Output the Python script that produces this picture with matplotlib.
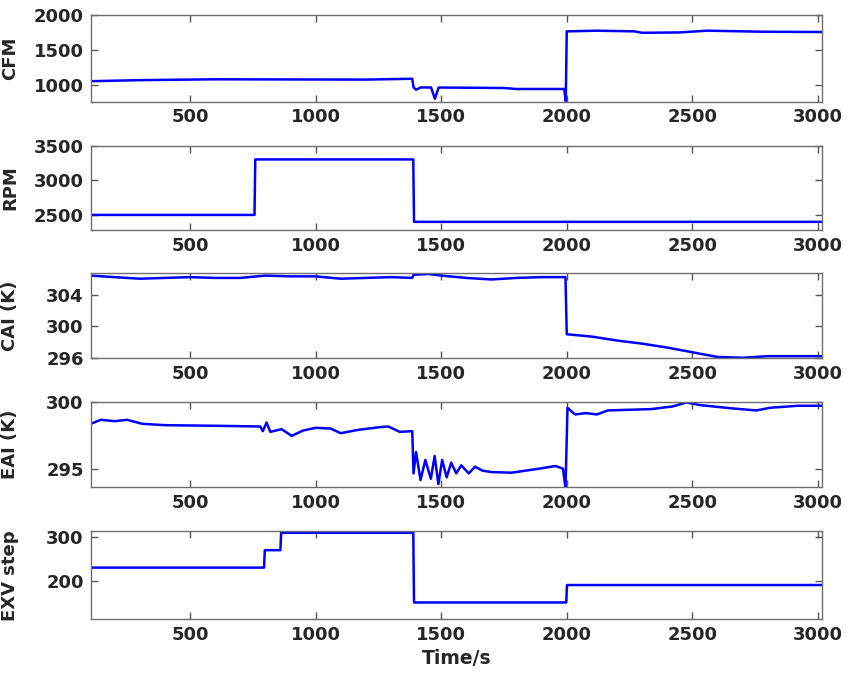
import numpy as np
import matplotlib.pyplot as plt

# ---- data ----
cfm_t = [105, 300, 600, 900, 1200, 1385, 1390, 1400, 1420, 1460, 1475, 1490, 1600,
         1750, 1800, 1990, 1996, 2000, 2120, 2270, 2300, 2450, 2560, 2780, 3015]
cfm_v = [1055, 1070, 1082, 1080, 1078, 1090, 967, 934, 967, 965, 805, 965, 962,
         958, 944, 944, 770, 1765, 1775, 1765, 1745, 1750, 1775, 1760, 1756]

rpm_t = [105, 757, 760, 1389, 1392, 3015]
rpm_v = [2500, 2500, 3300, 3300, 2400, 2400]

cai_t = [105, 200, 300, 400, 500, 600, 700, 800, 900, 1000, 1100, 1200, 1300, 1385,
         1390, 1450, 1500, 1600, 1700, 1800, 1900, 1995, 2000, 2100, 2200, 2300,
         2400, 2500, 2600, 2700, 2800, 2900, 3015]
cai_v = [306.5, 306.3, 306.1, 306.2, 306.3, 306.2, 306.2, 306.5, 306.4, 306.4, 306.1,
         306.2, 306.3, 306.2, 306.6, 306.7, 306.5, 306.2, 306.0, 306.2, 306.3, 306.3,
         299.0, 298.7, 298.2, 297.8, 297.3, 296.7, 296.1, 296.0, 296.2, 296.2, 296.2]

eai_t = [105, 145, 200, 250, 310, 400, 620, 780, 790, 805, 820, 865, 905, 950, 1000,
         1060, 1100, 1170, 1255, 1290, 1335, 1385, 1390, 1400, 1418, 1437, 1459, 1474,
         1489, 1504, 1522, 1540, 1560, 1580, 1610, 1635, 1665, 1700, 1780, 1890, 1955,
         1985, 1995, 2003, 2033, 2076, 2120, 2163, 2336, 2422, 2476, 2530, 2660, 2755,
         2810, 2920, 3015]
eai_v = [298.4, 298.7, 298.6, 298.7, 298.4, 298.3, 298.25, 298.2, 297.85, 298.5,
         297.8, 298.0, 297.5, 297.9, 298.1, 298.05, 297.7, 297.95, 298.15, 298.2, 297.8,
         297.85, 294.7, 296.3, 294.2, 295.7, 294.3, 296.0, 293.9, 295.7, 294.4, 295.5,
         294.7, 295.3, 294.7, 295.2, 294.9, 294.8, 294.75, 295.05, 295.25, 295.05, 293.6,
         299.6, 299.1, 299.2, 299.1, 299.4, 299.5, 299.7, 300.0, 299.8, 299.55, 299.4,
         299.6, 299.75, 299.75]

exv_t = [105, 795, 798, 860, 863, 1389, 1392, 1998, 2001, 3015]
exv_v = [230, 230, 270, 270, 310, 310, 150, 150, 190, 190]

panels = [
    (cfm_t, cfm_v, 'CFM', (765, 2000), [1000, 1500, 2000]),
    (rpm_t, rpm_v, 'RPM', (2280, 3500), [2500, 3000, 3500]),
    (cai_t, cai_v, 'CAI (K)', (295.95, 306.85), [296, 300, 304]),
    (eai_t, eai_v, 'EAI (K)', (293.65, 300.02), [295, 300]),
    (exv_t, exv_v, 'EXV step', (111, 313), [200, 300]),
]

# axes boxes in figure fraction (left, bottom, width, height)
boxes = [
    (0.107, 0.850, 0.862, 0.128),
    (0.107, 0.660, 0.862, 0.125),
    (0.107, 0.471, 0.862, 0.126),
    (0.107, 0.280, 0.862, 0.126),
    (0.107, 0.085, 0.862, 0.130),
]

fig = plt.figure(figsize=(8.48, 6.77), dpi=100)
for (t, v, lab, ylim, yt), box in zip(panels, boxes):
    ax = fig.add_axes(box)
    ax.plot(t, v, color='#0000ff', linewidth=1.8)
    ax.set_xlim(105, 3015)
    ax.set_ylim(*ylim)
    ax.set_xticks([500, 1000, 1500, 2000, 2500, 3000])
    ax.set_yticks(yt)
    ax.tick_params(direction='in', top=True, right=True, length=5,
                   width=1, color='#555555', labelcolor='#262626', pad=5,
                   labelsize=13)
    for lbl in ax.get_xticklabels() + ax.get_yticklabels():
        lbl.set_fontweight('bold')
    for s in ax.spines.values():
        s.set_color('#6e6e6e')
        s.set_linewidth(1.0)
    ax.set_ylabel(lab, fontsize=13, fontweight='bold', color='#262626')
    ax.yaxis.set_label_coords(-0.098, 0.5)

ax.set_xlabel('Time/s', fontsize=13.5, fontweight='bold', color='#262626', labelpad=3)

fig.savefig('out.png', dpi=100)
